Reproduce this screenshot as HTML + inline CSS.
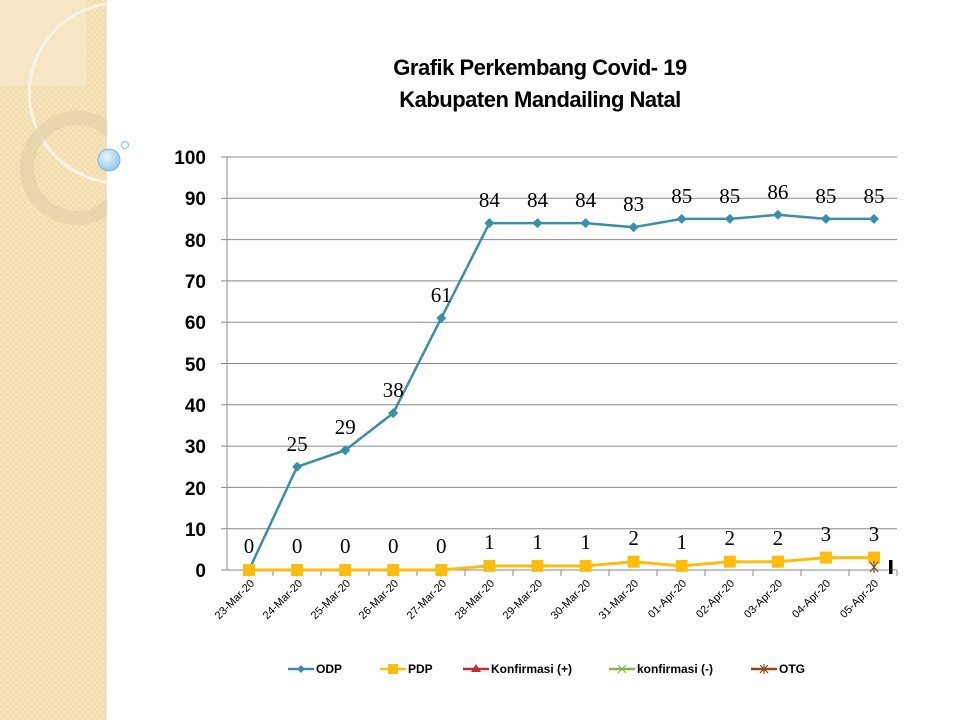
<!DOCTYPE html>
<html><head><meta charset="utf-8"><style>
html,body{margin:0;padding:0;width:960px;height:720px;overflow:hidden;background:#fff}
</style></head><body>
<svg width="960" height="720" xmlns="http://www.w3.org/2000/svg" font-family="Liberation Sans, sans-serif">
<defs>
<pattern id="chk" width="6" height="6" patternUnits="userSpaceOnUse">
<rect width="6" height="6" fill="#f3dcae"/><rect width="3" height="3" fill="#f6e4bf"/><rect x="3" y="3" width="3" height="3" fill="#f6e4bf"/>
</pattern>
<radialGradient id="bub" cx="0.4" cy="0.35" r="0.7"><stop offset="0" stop-color="#e6f5fc"/><stop offset="1" stop-color="#8cc6e4"/></radialGradient>
</defs>
<rect x="0" y="0" width="106" height="720" fill="url(#chk)"/>
<rect x="0" y="0" width="86" height="86" fill="#f8ead0" opacity="0.6"/>
<line x1="106" y1="0" x2="106" y2="720" stroke="#e6d2a8" stroke-width="1"/>
<path d="M106,4 A90,90 0 0 0 106,182" fill="none" stroke="#fbf3e2" stroke-width="3"/>
<circle cx="77" cy="168" r="50" fill="none" stroke="#e6d3ad" stroke-width="14" opacity="0.8"/>
<rect x="107" y="0" width="60" height="240" fill="#fff"/>
<circle cx="109" cy="160" r="11" fill="url(#bub)" stroke="#7fb6d3"/>
<circle cx="125" cy="145" r="3.5" fill="#fff" stroke="#8cc0da"/>
<text x="540" y="75" text-anchor="middle" font-size="22" font-weight="bold" fill="#000" letter-spacing="-0.5">Grafik Perkembang Covid- 19</text>
<text x="540" y="107" text-anchor="middle" font-size="22" font-weight="bold" fill="#000" letter-spacing="-0.5">Kabupaten Mandailing Natal</text>
<g stroke="#888" stroke-width="1">
<line x1="227" y1="157" x2="897" y2="157"/><line x1="227" y1="198.3" x2="897" y2="198.3"/>
<line x1="227" y1="239.6" x2="897" y2="239.6"/><line x1="227" y1="280.9" x2="897" y2="280.9"/>
<line x1="227" y1="322.2" x2="897" y2="322.2"/><line x1="227" y1="363.5" x2="897" y2="363.5"/>
<line x1="227" y1="404.8" x2="897" y2="404.8"/><line x1="227" y1="446.1" x2="897" y2="446.1"/>
<line x1="227" y1="487.4" x2="897" y2="487.4"/><line x1="227" y1="528.7" x2="897" y2="528.7"/>
<line x1="227" y1="570" x2="897" y2="570"/>
<line x1="227" y1="157" x2="227" y2="570"/>
</g>
<g stroke="#888" stroke-width="1">
<line x1="221" y1="157" x2="227" y2="157"/><line x1="221" y1="198.3" x2="227" y2="198.3"/><line x1="221" y1="239.6" x2="227" y2="239.6"/><line x1="221" y1="280.9" x2="227" y2="280.9"/><line x1="221" y1="322.2" x2="227" y2="322.2"/><line x1="221" y1="363.5" x2="227" y2="363.5"/><line x1="221" y1="404.8" x2="227" y2="404.8"/><line x1="221" y1="446.1" x2="227" y2="446.1"/><line x1="221" y1="487.4" x2="227" y2="487.4"/><line x1="221" y1="528.7" x2="227" y2="528.7"/><line x1="221" y1="570" x2="227" y2="570"/>
<line x1="273" y1="570" x2="273" y2="576"/><line x1="321" y1="570" x2="321" y2="576"/><line x1="369" y1="570" x2="369" y2="576"/><line x1="417" y1="570" x2="417" y2="576"/><line x1="465" y1="570" x2="465" y2="576"/><line x1="513" y1="570" x2="513" y2="576"/><line x1="561" y1="570" x2="561" y2="576"/><line x1="609" y1="570" x2="609" y2="576"/><line x1="657" y1="570" x2="657" y2="576"/><line x1="705" y1="570" x2="705" y2="576"/><line x1="753" y1="570" x2="753" y2="576"/><line x1="801" y1="570" x2="801" y2="576"/><line x1="849" y1="570" x2="849" y2="576"/><line x1="897" y1="570" x2="897" y2="576"/>
</g>
<g font-size="19" font-weight="bold" text-anchor="end" fill="#000">
<text x="206" y="164">100</text><text x="206" y="205">90</text><text x="206" y="247">80</text><text x="206" y="288">70</text><text x="206" y="329">60</text><text x="206" y="371">50</text><text x="206" y="412">40</text><text x="206" y="453">30</text><text x="206" y="495">20</text><text x="206" y="536">10</text><text x="206" y="577">0</text>
</g>
<g font-size="11" text-anchor="end" fill="#000">
<text transform="translate(255,584) rotate(-45)">23-Mar-20</text>
<text transform="translate(303,584) rotate(-45)">24-Mar-20</text>
<text transform="translate(351,584) rotate(-45)">25-Mar-20</text>
<text transform="translate(399,584) rotate(-45)">26-Mar-20</text>
<text transform="translate(447,584) rotate(-45)">27-Mar-20</text>
<text transform="translate(495,584) rotate(-45)">28-Mar-20</text>
<text transform="translate(543,584) rotate(-45)">29-Mar-20</text>
<text transform="translate(591,584) rotate(-45)">30-Mar-20</text>
<text transform="translate(639,584) rotate(-45)">31-Mar-20</text>
<text transform="translate(687,584) rotate(-45)">01-Apr-20</text>
<text transform="translate(735,584) rotate(-45)">02-Apr-20</text>
<text transform="translate(783,584) rotate(-45)">03-Apr-20</text>
<text transform="translate(831,584) rotate(-45)">04-Apr-20</text>
<text transform="translate(879,584) rotate(-45)">05-Apr-20</text>
</g>
<polyline fill="none" stroke="#3b8fa5" stroke-width="2.5" points="249,570 297.1,466.8 345.2,450.2 393.2,413.1 441.3,318.1 489.4,223.1 537.5,223.1 585.6,223.1 633.6,227.2 681.7,218.9 729.8,218.9 777.9,214.8 825.9,218.9 874,218.9"/>
<g fill="#3b8fa5">
<path d="M249,565l5,5-5,5-5-5z"/><path d="M297.1,461.8l5,5-5,5-5-5z"/><path d="M345.2,445.2l5,5-5,5-5-5z"/><path d="M393.2,408.1l5,5-5,5-5-5z"/><path d="M441.3,313.1l5,5-5,5-5-5z"/><path d="M489.4,218.1l5,5-5,5-5-5z"/><path d="M537.5,218.1l5,5-5,5-5-5z"/><path d="M585.6,218.1l5,5-5,5-5-5z"/><path d="M633.6,222.2l5,5-5,5-5-5z"/><path d="M681.7,213.9l5,5-5,5-5-5z"/><path d="M729.8,213.9l5,5-5,5-5-5z"/><path d="M777.9,209.8l5,5-5,5-5-5z"/><path d="M825.9,213.9l5,5-5,5-5-5z"/><path d="M874,213.9l5,5-5,5-5-5z"/>
</g>
<polyline fill="none" stroke="#fdbd10" stroke-width="3" points="249,570 297.1,570 345.2,570 393.2,570 441.3,570 489.4,565.9 537.5,565.9 585.6,565.9 633.6,561.7 681.7,565.9 729.8,561.7 777.9,561.7 825.9,557.6 874,557.6"/>
<g fill="#fdbd10">
<rect x="243" y="564" width="12" height="12"/><rect x="291.1" y="564" width="12" height="12"/><rect x="339.2" y="564" width="12" height="12"/><rect x="387.2" y="564" width="12" height="12"/><rect x="435.3" y="564" width="12" height="12"/><rect x="483.4" y="559.9" width="12" height="12"/><rect x="531.5" y="559.9" width="12" height="12"/><rect x="579.6" y="559.9" width="12" height="12"/><rect x="627.6" y="555.7" width="12" height="12"/><rect x="675.7" y="559.9" width="12" height="12"/><rect x="723.8" y="555.7" width="12" height="12"/><rect x="771.9" y="555.7" width="12" height="12"/><rect x="819.9" y="551.6" width="12" height="12"/><rect x="868" y="551.6" width="12" height="12"/>
</g>
<path d="M870,562l8,10M878,562l-8,10M874,561v12" stroke="#8a4a1a" stroke-width="1.2"/>
<rect x="889" y="560" width="3.5" height="14" fill="#000"/>
<g font-family="Liberation Serif, serif" font-size="21" text-anchor="middle" fill="#000">
<text x="297.1" y="451">25</text><text x="345.2" y="434">29</text><text x="393.2" y="397">38</text><text x="441.3" y="302">61</text>
<text x="489.4" y="207">84</text><text x="537.5" y="207">84</text><text x="585.6" y="207">84</text><text x="633.6" y="211">83</text><text x="681.7" y="203">85</text><text x="729.8" y="203">85</text><text x="777.9" y="199">86</text><text x="825.9" y="203">85</text><text x="874" y="203">85</text>
<text x="249" y="553">0</text><text x="297.1" y="553">0</text><text x="345.2" y="553">0</text><text x="393.2" y="553">0</text><text x="441.3" y="553">0</text>
<text x="489.4" y="549">1</text><text x="537.5" y="549">1</text><text x="585.6" y="549">1</text><text x="633.6" y="545">2</text><text x="681.7" y="549">1</text><text x="729.8" y="545">2</text><text x="777.9" y="545">2</text><text x="825.9" y="541">3</text><text x="874" y="541">3</text>
</g>
<g font-size="12" font-weight="bold" fill="#000">
<line x1="288" y1="669" x2="314" y2="669" stroke="#3b8fa5" stroke-width="2.5"/><path d="M301,665l4,4-4,4-4-4z" fill="#3b8fa5"/><text x="316" y="673">ODP</text>
<line x1="380" y1="669" x2="406" y2="669" stroke="#fdbd10" stroke-width="2.5"/><rect x="388" y="664" width="10" height="10" fill="#fdbd10"/><text x="408" y="673">PDP</text>
<line x1="463" y1="669" x2="489" y2="669" stroke="#be2f38" stroke-width="2.5"/><path d="M476,664l5,8h-10z" fill="#be2f38"/><text x="491" y="673">Konfirmasi (+)</text>
<line x1="609" y1="669" x2="635" y2="669" stroke="#8db04c" stroke-width="2.5"/><path d="M618,665l8,8M626,665l-8,8" stroke="#8db04c" stroke-width="1.2"/><text x="637" y="673">konfirmasi (-)</text>
<line x1="751" y1="669" x2="777" y2="669" stroke="#8a4a1a" stroke-width="2.5"/><path d="M760,665l8,8M768,665l-8,8M764,664v10" stroke="#8a4a1a" stroke-width="1.2"/><text x="779" y="673">OTG</text>
</g>
</svg>
</body></html>
